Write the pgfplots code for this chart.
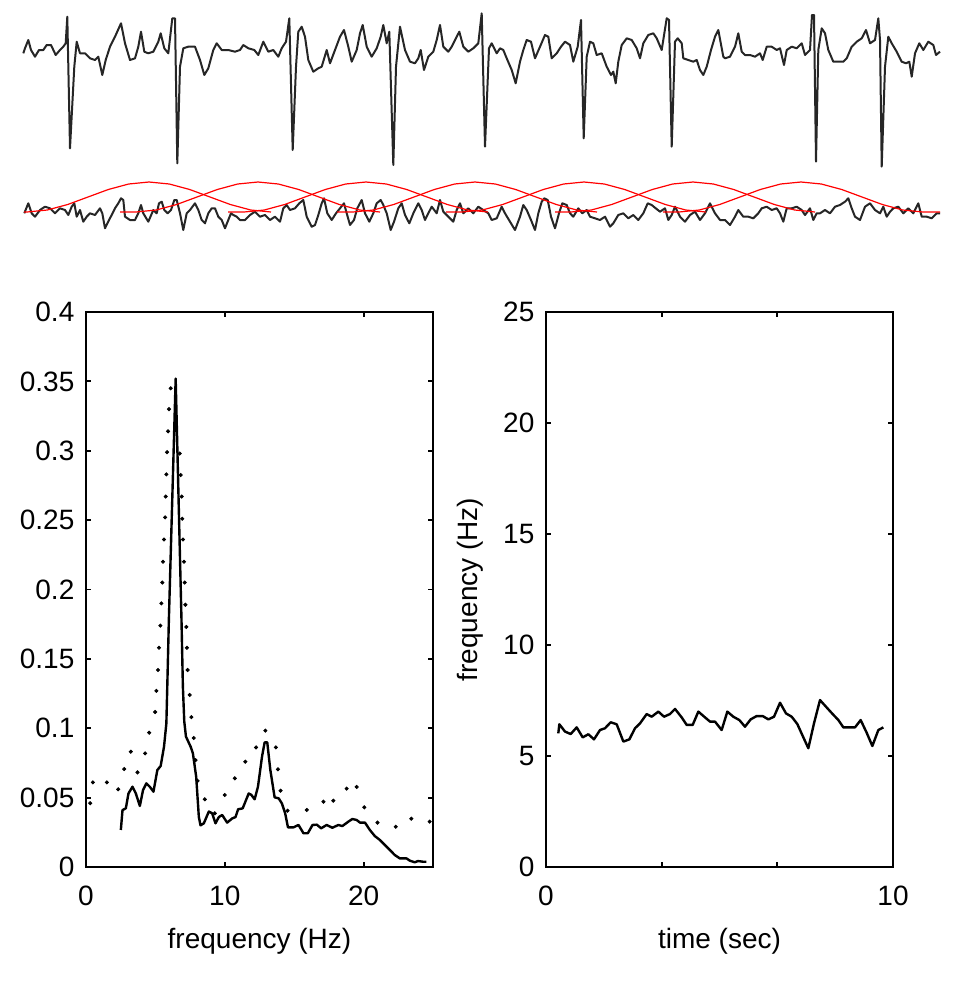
\documentclass[border=0pt]{standalone}
\usepackage{pgfplots}
\pgfplotsset{compat=1.18}
\usepackage{fontspec}
\setmainfont{Liberation Sans}
\pgfplotsset{
  botstyle/.style={
    scale only axis, width=173.5pt, height=277.5pt,
    axis line style={line width=0.9pt, black},
    major tick style={line width=0.9pt, black},
    major tick length=2.5pt, tick align=inside,
    scaled ticks=false,
    ticklabel style={font=\fontsize{14}{16}\selectfont},
    label style={font=\fontsize{14}{16}\selectfont},
    xticklabel style={yshift=-6pt},
    yticklabel style={xshift=-2.3pt},
    xlabel style={at={(axis description cs:0.5,-0.1465)}, anchor=base},
  }
}
\begin{document}
\begin{tikzpicture}[x=1pt,y=1pt]
\path[use as bounding box] (0,0) rectangle (480,-492);
% ---------------- top panel (signals) ----------------
\begin{axis}[at={(0pt,0pt)}, anchor=north west, scale only axis,
  width=480pt, height=135pt, xmin=0, xmax=960, ymin=0, ymax=270,
  y dir=reverse, axis lines=none, ticks=none, clip=false]
\addplot[black!85, line width=1pt, line join=round] coordinates {
(23.3,53.3)(25,48.3)(28.3,40)(31,50)(35,56.7)(39,50)(43.3,50)(46.7,45)(51,45)(55.7,55)(60,50)(63.3,46.7)(65.7,43.3)(67.3,16.7)(70,148.3)(74.3,66.7)(76.7,41.7)(80,53.3)(85,53.3)(90,58.3)(95,60)(98.3,56.7)(102.3,75)(105.7,60)(110,46.7)(115,36.7)(121,23.3)(125,43.3)(130,60)(135,58.3)(138.3,46.7)(141,31.7)(144.3,51.7)(148.3,53.3)(153.3,51.7)(158.3,41.7)(160.7,33.3)(164.3,48.3)(168.3,53.3)(172.3,18.3)(175,18.3)(177.3,163.3)(180,66.7)(183.3,48.3)(188.3,46.7)(195,46.7)(200,60)(204.3,75)(208.3,68.3)(213.3,50)(216.7,43.3)(221.7,50)(228.3,50)(235,51.7)(240,50)(243.3,45)(248.3,48.3)(254.3,50)(258.3,55)(263.3,41.7)(268.3,51.7)(273.3,50)(278.3,56.7)(281.7,48.3)(286,41.7)(289.3,18.3)(292.7,150)(296,66.7)(298.3,31.7)(301.7,26.7)(305,36.7)(308.3,60)(313.3,71.7)(318.3,68.3)(321.7,66.7)(326.7,50)(330,63.3)(335,50)(340,36.7)(344,30)(348.3,46.7)(351.7,61.7)(356.7,50)(360,33.3)(362.7,25)(366.7,46.7)(371.7,56.7)(376.7,48.3)(380.7,36.7)(383.3,25)(386.7,43.3)(389.3,31.7)(393.3,165)(396,66.7)(400,26.7)(405,50)(410,61.7)(415,63.3)(418.3,58.3)(420.7,50)(424,70)(428.3,56.7)(433.3,51.7)(436.7,40)(440,25)(443.3,46.7)(448.3,51.7)(451.7,46.7)(456.7,36.7)(459.3,31.7)(463.3,46.7)(468.3,51.7)(473.3,48.3)(478.3,43.3)(481.7,13.3)(485,146.7)(489,48.3)(491.7,43.3)(496.7,53.3)(500,48.3)(503.3,50)(506.7,58.3)(511.7,70)(515.7,83.3)(520,61.7)(523.3,50)(526.7,40)(531,41.7)(535,58.3)(540,46.7)(545,35)(548.3,36.7)(551.7,58.3)(556.7,53.3)(561,46.7)(565,41.7)(570,45)(573.3,61.7)(577.7,46.7)(581,20)(583.7,138.3)(586.7,56.7)(590,41.7)(593.3,43.3)(596.7,55)(601.7,53.3)(606.7,66.7)(611,75)(613.3,71.7)(615.7,83.3)(618.3,61.7)(621.7,45)(626.7,38.3)(631.7,40)(636.7,48.3)(640,58.3)(643.3,43.3)(648.3,35)(653.3,33.3)(656.7,38.3)(661.7,50)(666.7,18.3)(669,20)(671.7,146.7)(675,41.7)(677.7,38.3)(681.7,43.3)(683.3,58.3)(688.3,60)(693.3,61.7)(696.7,60)(700,70)(703.3,75)(706.7,66.7)(711,50)(715,36.7)(718.3,30)(723.3,56.7)(725,58.3)(730,56.7)(735,46.7)(738.3,33.3)(741.7,51.7)(745,55)(750,55)(755,56.7)(760,53.3)(762.7,60)(766.7,46.7)(771.7,46.7)(776.7,50)(780,48.3)(784,65)(786.7,50)(791.7,46.7)(796.7,48.3)(801.7,43.3)(805,55)(810,50)(812,15)(814,15)(816,161.7)(818.3,50)(821.7,28.3)(825,33.3)(828.3,50)(833.3,61.7)(838.3,61.7)(843.3,61.7)(846.7,58.3)(851.7,46.7)(856.7,41.7)(861.7,38.3)(866,30)(870,43.3)(875,40)(878.3,18.3)(880,40)(881.7,166.7)(885,66.7)(888.3,36.7)(891.7,43.3)(896.7,51.7)(901.7,61.7)(906,63.3)(909.3,61.7)(911.7,76.7)(915,53.3)(919.3,43.3)(923.3,50)(928.3,41.7)(933.3,45)(936,55)(940,51.7)
};
\addplot[black!85, line width=1pt, line join=round] coordinates {
(24.3,213.3)(28.3,203.3)(31.7,213.3)(35,216.7)(40,210)(45,206.7)(50,208.3)(55,213.3)(60,208.3)(65,210)(68.3,215)(71.7,206.7)(74.3,203.3)(76.7,216.7)(80,210)(83.3,221.7)(86.7,216.7)(90,213.3)(95,215)(100,208.3)(102.3,213.3)(105,228.3)(109,220)(111.7,215)(115,208.3)(118.3,203.3)(121,198.3)(123.3,200)(125,216.7)(130,220)(135,220)(138.3,213.3)(141,205)(143.3,213.3)(148.3,221.7)(153.3,210)(156.7,213.3)(159,203.3)(161.7,201.7)(164.3,210)(167.7,213.3)(171,210)(174.3,200)(176.7,200)(180,213.3)(183.3,230)(186.7,213.3)(190,210)(195,203.3)(198.3,210)(201.7,220)(205,223.3)(208.3,213.3)(211.7,208.3)(215,208.3)(218.3,216.7)(221.7,220)(225,228.3)(228.3,220)(231,213.3)(233.3,215)(236.7,216.7)(240,220)(245,220)(250,215)(255,211.7)(260,216.7)(265,215)(270,220)(275,216.7)(280,221.7)(283.3,208.3)(286.7,205)(290,210)(295,208.3)(299.3,203.3)(303.3,200)(306.7,216.7)(311.7,226.7)(315,225)(318.3,215)(321.7,203.3)(324,198.3)(327.3,213.3)(331.7,220)(336,213.3)(340,208.3)(344,203.3)(346.7,213.3)(350,225)(354,220)(357.3,208.3)(361.7,200)(365,213.3)(369.3,221.7)(373.3,213.3)(376.7,203.3)(380.7,200)(383.3,205)(386.7,213.3)(390.7,230)(394,221.7)(398.3,208.3)(401.7,203.3)(405,215)(409.3,223.3)(413.3,213.3)(418.3,203.3)(421.7,210)(425,220)(428.3,213.3)(431.7,206.7)(436.7,213.3)(440,200)(443.3,211.7)(448.3,216.7)(453.3,221.7)(456.7,210)(460,203.3)(463.3,213.3)(468.3,208.3)(473.3,213.3)(478.3,206.7)(483.3,210)(488.3,213.3)(491.7,220)(496.7,218.3)(501.7,206.7)(505,213.3)(510,221.7)(515,230)(520,216.7)(523.3,205)(526.7,210)(531,220)(535,230)(538.3,213.3)(541.7,201.7)(544.3,198.3)(547.7,200)(551,216.7)(555,228.3)(559,213.3)(562.3,203.3)(566.7,205)(570,213.3)(573.3,216.7)(578.3,208.3)(582.3,213.3)(586.7,210)(590,216.7)(595,218.3)(600,220)(605,216.7)(610,226.7)(613.3,223.3)(618.3,215)(623.3,213.3)(628.3,218.3)(633.3,215)(638.3,220)(643.3,213.3)(647.7,203.3)(651.7,205)(655.7,208.3)(660,211.7)(665,208.3)(668.3,220)(671.7,215)(675,206.7)(680,216.7)(685,221.7)(690,215)(695,211.7)(700,220)(705,213.3)(710,203.3)(715,213.3)(720,220)(725,220)(730,225)(735,216.7)(738.3,210)(743.3,216.7)(748.3,216.7)(753.3,218.3)(758.3,213.3)(761.7,208.3)(766.7,206.7)(771.7,210)(776.7,208.3)(780,213.3)(783.3,221.7)(786.7,208.3)(791.7,208.3)(796.7,206.7)(801.7,210)(805,215)(810,208.3)(813.3,220)(816.7,213.3)(820,213.3)(825,210)(830,213.3)(835,206.7)(840,205)(845,201.7)(848.3,198.3)(851.7,208.3)(855,216.7)(860,220)(865,206.7)(870,203.3)(875,210)(880,213.3)(883.3,206.7)(886.7,216.7)(890,211.7)(893.3,208.3)(898.3,206.7)(903.3,213.3)(908.3,208.3)(913.3,213.3)(918.3,203.3)(921.7,216.7)(926.7,216.7)(931.7,218.3)(936.7,213.3)(940,213.3)
};
% red windows
\addplot[red, line width=0.6pt] coordinates {(24,212)(27,212)(47.3,210)(67.7,204.5)(88,197)(108.3,189.5)(128.7,184)(149,182)(169.3,184)(189.7,189.5)(210,197)(230.3,204.5)(250.7,210)(271,212)};
\addplot[red, line width=0.6pt] coordinates {(120,212)(136,212)(156.3,210)(176.7,204.5)(197,197)(217.3,189.5)(237.7,184)(258,182)(278.3,184)(298.7,189.5)(319,197)(339.3,204.5)(359.7,210)(380,212)};
\addplot[red, line width=0.6pt] coordinates {(228,212)(244,212)(264.3,210)(284.7,204.5)(305,197)(325.3,189.5)(345.7,184)(366,182)(386.3,184)(406.7,189.5)(427,197)(447.3,204.5)(467.7,210)(488,212)};
\addplot[red, line width=0.6pt] coordinates {(337,212)(353,212)(373.3,210)(393.7,204.5)(414,197)(434.3,189.5)(454.7,184)(475,182)(495.3,184)(515.7,189.5)(536,197)(556.3,204.5)(576.7,210)(597,212)};
\addplot[red, line width=0.6pt] coordinates {(446,212)(462,212)(482.3,210)(502.7,204.5)(523,197)(543.3,189.5)(563.7,184)(584,182)(604.3,184)(624.7,189.5)(645,197)(665.3,204.5)(685.7,210)(706,212)};
\addplot[red, line width=0.6pt] coordinates {(555,212)(571,212)(591.3,210)(611.7,204.5)(632,197)(652.3,189.5)(672.7,184)(693,182)(713.3,184)(733.7,189.5)(754,197)(774.3,204.5)(794.7,210)(815,212)};
\addplot[red, line width=0.6pt] coordinates {(663,212)(679,212)(699.3,210)(719.7,204.5)(740,197)(760.3,189.5)(780.7,184)(801,182)(821.3,184)(841.7,189.5)(862,197)(882.3,204.5)(902.7,210)(923,212)(940,212)};
\end{axis}
% ---------------- bottom left: spectrum ----------------
\begin{axis}[botstyle, at={(43pt,-433.5pt)}, anchor=south west,
  xmin=0, xmax=25, ymin=0, ymax=0.4,
  xtick={0,10,20}, xticklabels={0,10,20},
  ytick={0,0.05,0.1,0.15,0.2,0.25,0.3,0.35,0.4},
  yticklabels={0,0.05,0.1,0.15,0.2,0.25,0.3,0.35,0.4},
  xlabel={frequency (Hz)}]
\addplot[black, line width=1.2pt, line join=round] coordinates {
(2.51,0.0267)(2.63,0.041)(2.87,0.0423)(3.06,0.053)(3.35,0.0579)(3.59,0.053)(3.88,0.044)(4.11,0.0555)(4.35,0.0603)(4.59,0.0579)(4.86,0.0543)(5.14,0.0699)(5.38,0.0728)(5.62,0.0867)(5.79,0.1035)(5.88,0.14)(5.97,0.178)(6.46,0.352)(6.88,0.178)(6.98,0.13)(7.08,0.105)(7.2,0.094)(7.54,0.0867)(7.70,0.082)(7.94,0.065)(8.13,0.036)(8.25,0.030)(8.49,0.0315)(8.85,0.040)(9.09,0.0387)(9.33,0.0315)(9.57,0.036)(9.81,0.0375)(10.17,0.032)(10.53,0.035)(10.77,0.036)(10.96,0.0416)(11.29,0.0423)(11.72,0.053)(11.91,0.052)(12.15,0.0488)(12.39,0.0579)(12.68,0.0795)(12.87,0.0898)(13.06,0.0898)(13.28,0.070)(13.59,0.0502)(13.88,0.0495)(14.11,0.0459)(14.35,0.0387)(14.55,0.0286)(14.95,0.0286)(15.31,0.0303)(15.67,0.0243)(15.98,0.0243)(16.32,0.0303)(16.63,0.0305)(16.94,0.0279)(17.34,0.0303)(17.75,0.0283)(18.18,0.0303)(18.47,0.0295)(18.90,0.0327)(19.19,0.0346)(19.50,0.0339)(19.74,0.032)(20.10,0.032)(20.45,0.0267)(20.81,0.0223)(21.17,0.0195)(21.53,0.0159)(21.89,0.0123)(22.25,0.0086)(22.61,0.0062)(23.09,0.0062)(23.33,0.0046)(23.68,0.0034)(23.92,0.0043)(24.28,0.0038)(24.52,0.0038)
};
\addplot[only marks, mark=*, mark size=0.8pt, black] coordinates {
(0.3,0.046)(0.5,0.061)(1.5,0.061)(2.32,0.056)(2.75,0.0706)(3.23,0.0831)(3.71,0.0682)(4.26,0.0819)(4.55,0.0968)(4.98,0.1117)(5.07,0.127)(5.19,0.142)(5.26,0.158)(5.36,0.174)(5.43,0.190)(5.50,0.205)(5.55,0.220)(5.62,0.236)(5.70,0.252)(5.74,0.267)(5.79,0.283)(5.84,0.299)(5.91,0.314)(5.98,0.330)(6.10,0.345)(6.75,0.298)(6.82,0.2825)(6.89,0.267)(6.94,0.251)(6.99,0.236)(7.06,0.220)(7.11,0.205)(7.16,0.189)(7.23,0.173)(7.27,0.158)(7.32,0.142)(7.47,0.124)(7.59,0.108)(7.76,0.093)(7.89,0.077)(8.04,0.062)(8.56,0.0488)(9.28,0.0387)(10.0,0.0519)(10.72,0.0639)(11.48,0.0759)(12.25,0.0862)(12.92,0.0983)(13.68,0.0862)(13.83,0.0704)(14.02,0.055)(14.52,0.0406)(15.91,0.0411)(17.11,0.0471)(17.82,0.0478)(18.78,0.0565)(19.50,0.0577)(20.05,0.043)(21.0,0.032)(22.32,0.029)(23.44,0.0348)(24.76,0.0327)
};
\end{axis}
% ---------------- bottom right: frequency vs time ----------------
\begin{axis}[botstyle, at={(273pt,-433.5pt)}, anchor=south west,
  xmin=0, xmax=10, ymin=0, ymax=25,
  xtick={0,3.3333,6.6667,10}, xticklabels={0,,,10},
  ytick={0,5,10,15,20,25}, yticklabels={0,5,10,15,20,25},
  xlabel={time (sec)}, ylabel={frequency (Hz)},
  ylabel style={at={(axis description cs:-0.196,0.5)}, anchor=base, rotate=0}]
\addplot[black, line width=1.2pt, line join=round] coordinates {
(0.355,6.02)(0.384,6.43)(0.548,6.10)(0.711,5.99)(0.884,6.29)(1.057,5.84)(1.220,5.98)(1.383,5.75)(1.556,6.17)(1.700,6.25)(1.864,6.52)(2.037,6.43)(2.229,5.65)(2.402,5.75)(2.565,6.25)(2.709,6.47)(2.901,6.89)(3.045,6.77)(3.237,7.00)(3.401,6.77)(3.573,6.89)(3.718,7.12)(3.910,6.74)(4.054,6.40)(4.227,6.40)(4.390,7.00)(4.582,6.74)(4.726,6.55)(4.870,6.55)(5.062,6.17)(5.226,7.00)(5.399,6.77)(5.572,6.62)(5.735,6.32)(5.898,6.65)(6.071,6.80)(6.244,6.80)(6.407,6.65)(6.571,6.77)(6.744,7.40)(6.916,6.92)(7.080,6.77)(7.243,6.44)(7.416,5.84)(7.560,5.35)(7.723,6.47)(7.896,7.52)(8.069,7.22)(8.261,6.89)(8.425,6.62)(8.569,6.29)(8.761,6.29)(8.905,6.29)(9.068,6.62)(9.241,6.05)(9.405,5.45)(9.577,6.17)(9.721,6.29)
};
\end{axis}
\end{tikzpicture}
\end{document}
